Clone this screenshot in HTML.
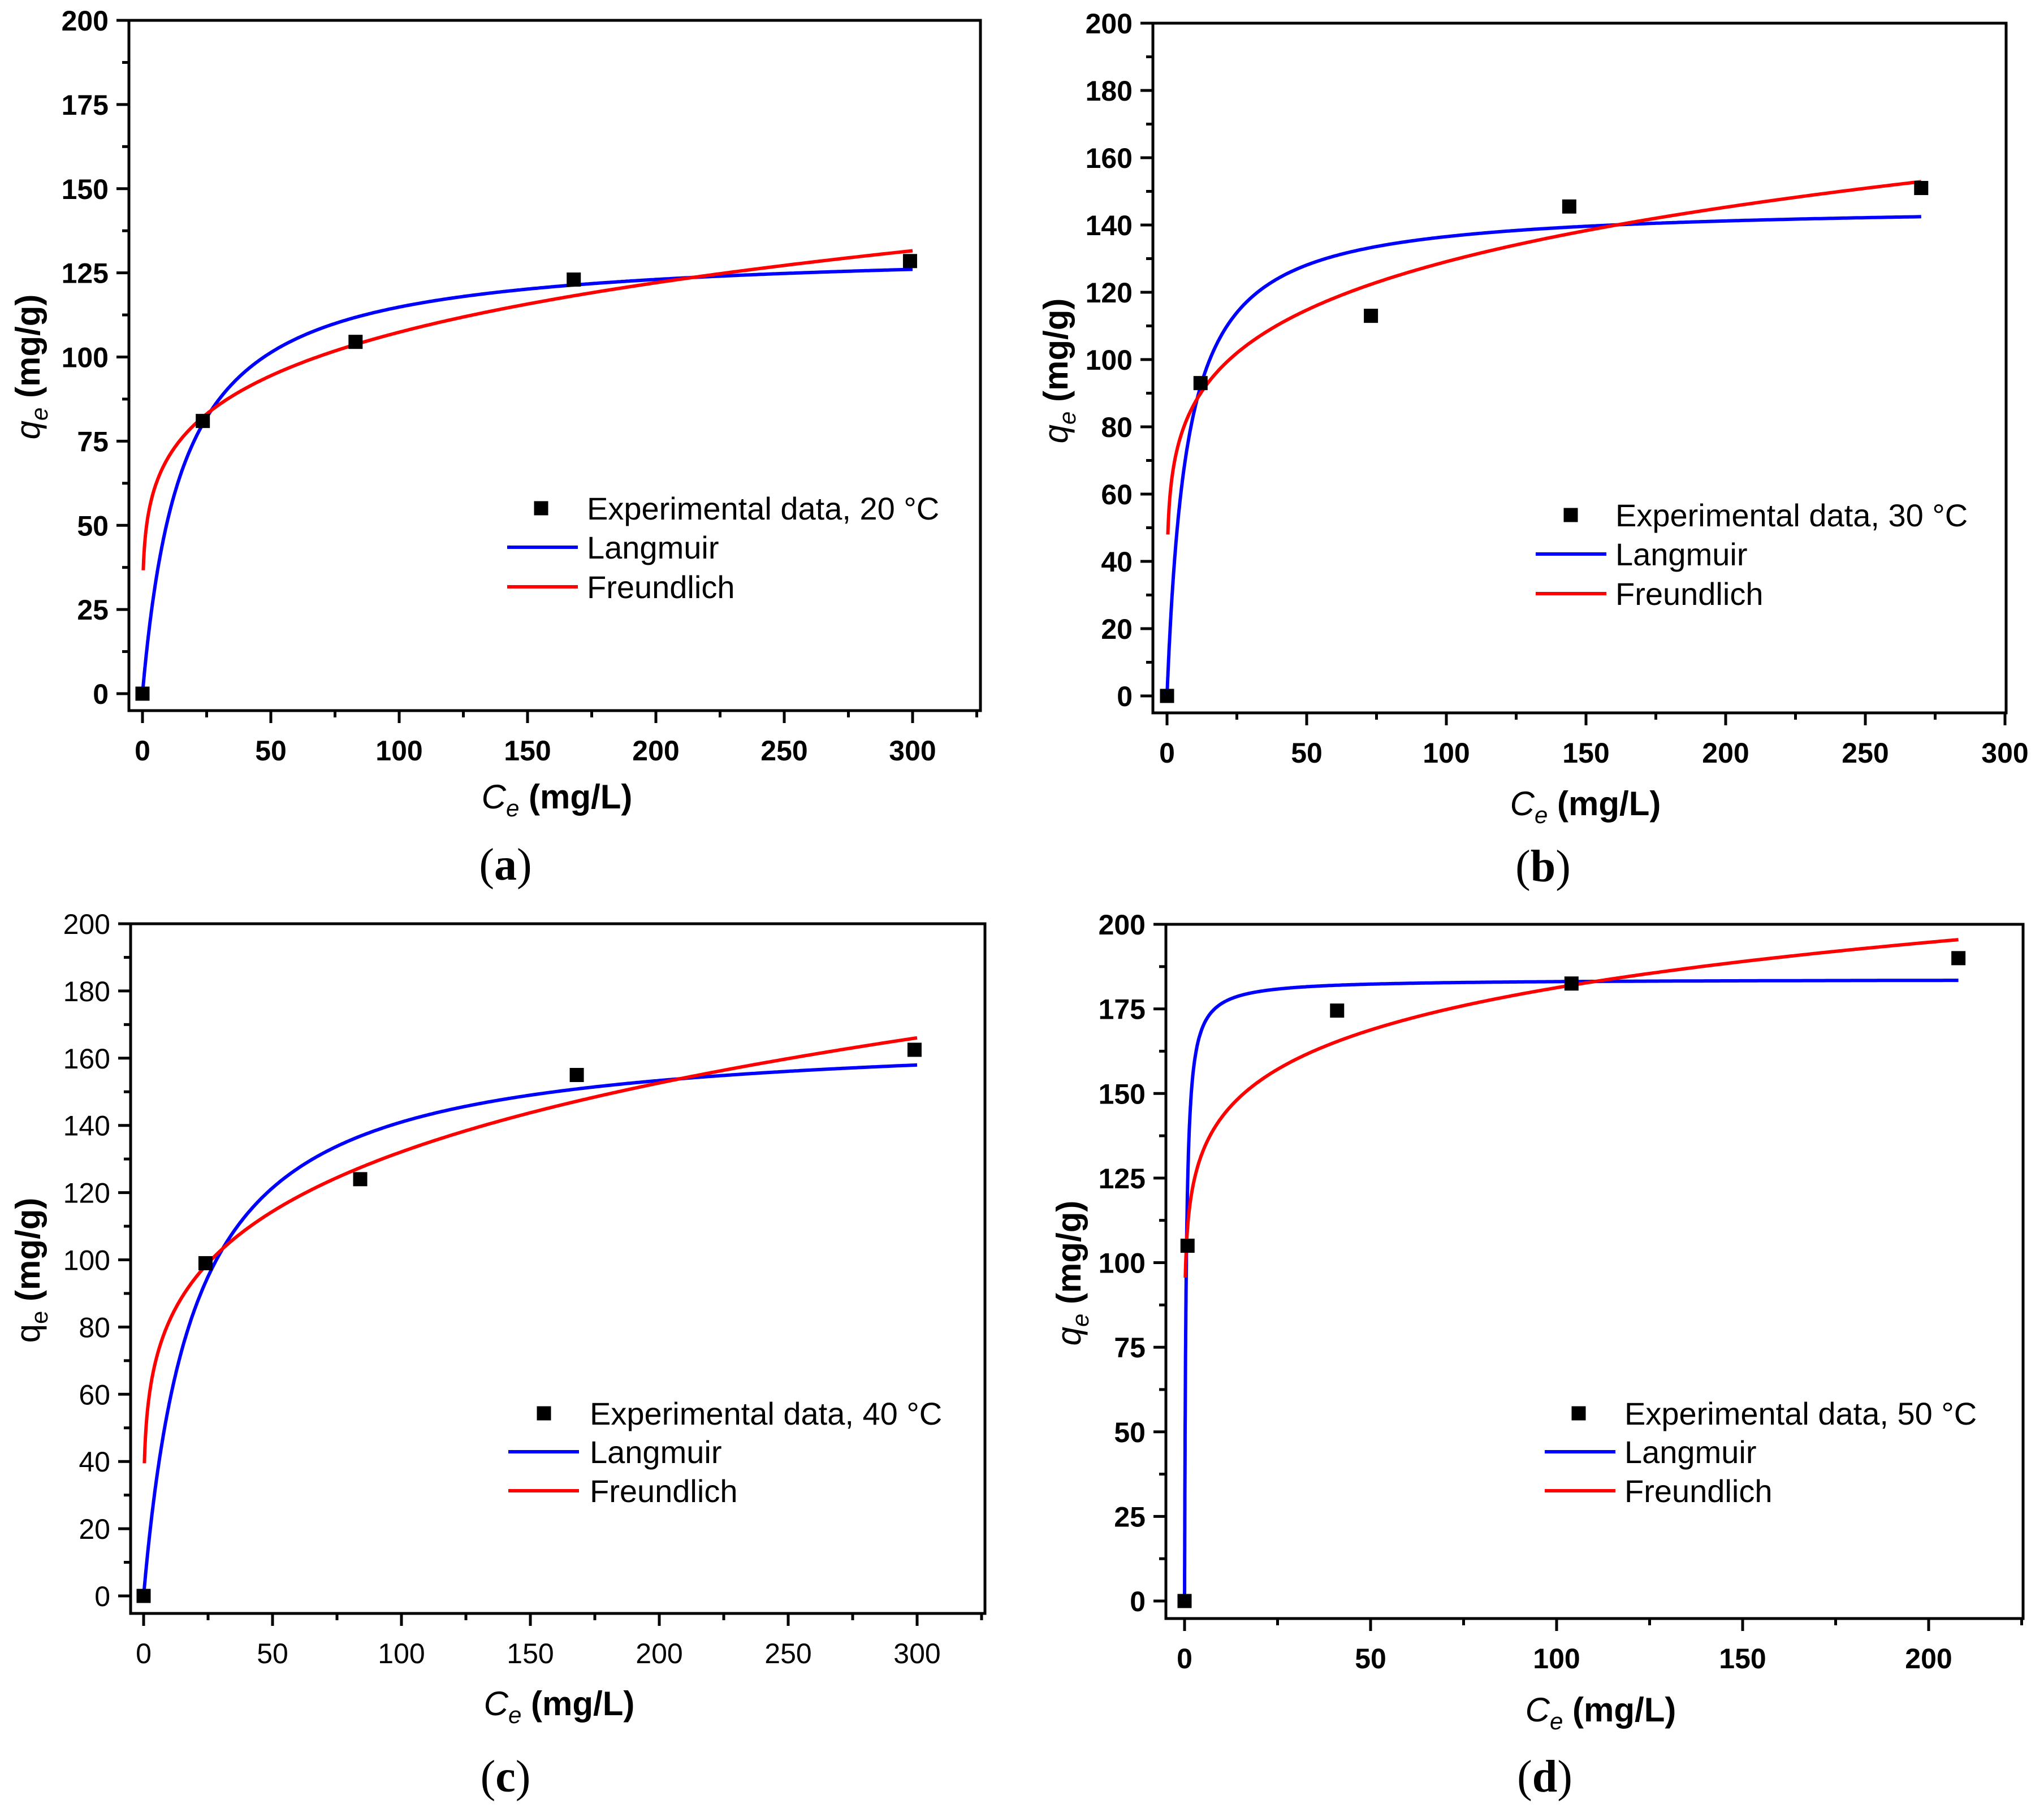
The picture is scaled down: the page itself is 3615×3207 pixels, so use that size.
<!DOCTYPE html>
<html><head><meta charset="utf-8"><style>
html,body{margin:0;padding:0;background:#fff;}
svg{display:block;}
</style></head><body>
<svg id="fig" xmlns="http://www.w3.org/2000/svg" width="3615" height="3207" viewBox="0 0 3615 3207"></svg>
<script>
// ---- data ----
const panelLetters = ['(a)','(b)','(c)','(d)'];
const temps = ['20','30','40','50'];
const expX_a = [0, 23.5, 83, 168, 299];
const expY_a = [0, 81, 104.5, 123, 128.5];
const expX_b = [0, 12, 73, 144, 270];
const expY_b = [0, 93, 113, 145.5, 151];
const expX_c = [0, 24, 84, 168, 299];
const expY_c = [0, 99, 124, 155, 162.5];
const expX_d = [0, 0.8, 41, 104, 208];
const expY_d = [0, 105, 174.5, 182.5, 190];
// Langmuir fit parameters per panel
const langQm = [132.5, 146.2, 168.1, 183.8];
const langK = [0.065, 0.1414, 0.052, 2.46];
// Freundlich fit parameters per panel
const freKF = [45.8, 58.9, 50.7, 112.8];
const freN = [0.185, 0.1704, 0.208, 0.103];
const fitEnd = [300, 270, 300, 208];
const freStart = [0.3, 0.3, 0.3, 0.2];
const xTicks_a = [0,50,100,150,200,250,300];
const xTicks_b = [0,50,100,150,200,250,300];
const xTicks_c = [0,50,100,150,200,250,300];
const xTicks_d = [0,50,100,150,200];
const yTicks_a = [0,25,50,75,100,125,150,175,200];
const yTicks_b = [0,20,40,60,80,100,120,140,160,180,200];
const yTicks_c = [0,20,40,60,80,100,120,140,160,180,200];
const yTicks_d = [0,25,50,75,100,125,150,175,200];

// ---- layout ----
const panels = [
 {L:228,R:1734,T:36,B:1257,x0:252,xv:50,xp:227,y0:1227,ymax:200,xMinor:25,yMinor:12.5,bold:true,
  ex:expX_a,ey:expY_a,xt:xTicks_a,yt:yTicks_a,leg:{mx:957,my:899,tx:1038,ly:[968,1038],l1:897,l2:1022},
  ytx:50,yty:649,xtx:985,xty:1410,lx:894,ly:1530},
 {L:2039,R:3548,T:41,B:1261,x0:2064,xv:50,xp:247,y0:1231,ymax:200,xMinor:25,yMinor:10,bold:true,
  ex:expX_b,ey:expY_b,xt:xTicks_b,yt:yTicks_b,leg:{mx:2778,my:911,tx:2857,ly:[980,1050],l1:2716,l2:2841},
  ytx:1868,yty:656,xtx:2804,xty:1422,lx:2729,ly:1533},
 {L:231,R:1742,T:1634,B:2854,x0:254,xv:50,xp:228,y0:2823,ymax:200,xMinor:25,yMinor:10,bold:false,
  ex:expX_c,ey:expY_c,xt:xTicks_c,yt:yTicks_c,leg:{mx:962,my:2500,tx:1043,ly:[2568,2637],l1:899,l2:1024},
  ytx:50,yty:2247,xtx:989,xty:3014,lx:894,ly:3143},
 {L:2062,R:3578,T:1635,B:2863,x0:2095,xv:50,xp:329,y0:2832,ymax:200,xMinor:25,yMinor:12.5,bold:true,
  ex:expX_d,ey:expY_d,xt:xTicks_d,yt:yTicks_d,leg:{mx:2792,my:2500,tx:2873,ly:[2568,2637],l1:2732,l2:2857},
  ytx:1891,yty:2252,xtx:2831,xty:3025,lx:2732,ly:3143}
];

const NS='http://www.w3.org/2000/svg';
const svg=document.getElementById('fig');
function mk(tag, attrs, parent){
  const e=document.createElementNS(NS,tag);
  for(const k in attrs) e.setAttribute(k,attrs[k]);
  (parent||svg).appendChild(e);
  return e;
}
const SANS='"Liberation Sans", Arial, sans-serif';

panels.forEach((p,i)=>{
  const g=mk('g',{});
  
  
  const sx=v=>p.x0+v*p.xp/p.xv;
  const sy=v=>p.y0-v*(p.y0-p.T)/p.ymax;
  const fw=p.bold?'bold':'normal';
  const fr=mk('rect',{x:p.L,y:p.T,width:p.R-p.L,height:p.B-p.T,fill:'none',stroke:'#000','stroke-width':5},g);
  
  
  const xMax=(p.R-p.x0)*p.xv/p.xp;
  for(let v=0; v<=xMax+0.001; v+=p.xMinor){
    const major=p.xt.indexOf(v)>=0;
    const t=mk('line',{x1:sx(v),x2:sx(v),y1:p.B,y2:p.B+(major?22:12),stroke:'#000','stroke-width':5},g);
    
    
  }
  p.xt.forEach(v=>{
    const t=mk('text',{x:sx(v),y:p.B+88,'font-family':SANS,'font-size':50,'font-weight':fw,'text-anchor':'middle'},g);
    t.textContent=v;
    
    
  });
  for(let v=0; v<=p.ymax+0.001; v+=p.yMinor){
    const major=p.yt.indexOf(v)>=0;
    const t=mk('line',{x1:p.L,x2:p.L-(major?22:12),y1:sy(v),y2:sy(v),stroke:'#000','stroke-width':5},g);
    
    
  }
  p.yt.forEach(v=>{
    const t=mk('text',{x:p.L-36,y:sy(v)+18,'font-family':SANS,'font-size':50,'font-weight':fw,'text-anchor':'end'},g);
    t.textContent=v;
    
    
  });
  const qm=langQm[i],K=langK[i],KF=freKF[i],n=freN[i];
  let dL='',dF='';
  const N=600;
  for(let k=0;k<=N;k++){
    const c=fitEnd[i]*Math.pow(k/N,2.2);
    const q=qm*K*c/(1+K*c);
    dL+=(k?'L':'M')+sx(c).toFixed(1)+' '+sy(q).toFixed(1);
    const cf=freStart[i]+(fitEnd[i]-freStart[i])*Math.pow(k/N,2.2);
    const qf=KF*Math.pow(cf,n);
    dF+=(k?'L':'M')+sx(cf).toFixed(1)+' '+sy(qf).toFixed(1);
  }
  const pl=mk('path',{d:dL,fill:'none',stroke:'#0000ff','stroke-width':6,'stroke-linejoin':'round'},g);
  
  
  const pf=mk('path',{d:dF,fill:'none',stroke:'#ff0000','stroke-width':6,'stroke-linejoin':'round'},g);
  
  
  p.ex.forEach((x,j)=>{
    const r=mk('rect',{x:sx(x)-12.5,y:sy(p.ey[j])-12.5,width:25,height:25,fill:'#000'},g);
    
    
  });
  const lg=mk('g',{},g);
  
  
  const lm=mk('rect',{x:p.leg.mx-12.5,y:p.leg.my-12.5,width:25,height:25,fill:'#000'},lg);
  
  
  const lt=mk('text',{x:p.leg.tx,y:p.leg.my+20,'font-family':SANS,'font-size':56},lg);
  lt.textContent='Experimental data, '+temps[i]+' °C';
  
  
  ['Langmuir','Freundlich'].forEach((nm,k)=>{
    const ln=mk('line',{x1:p.leg.l1,x2:p.leg.l2,y1:p.leg.ly[k],y2:p.leg.ly[k],stroke:k?'#ff0000':'#0000ff','stroke-width':6},lg);
    
    
    const tx=mk('text',{x:p.leg.tx,y:p.leg.ly[k]+20,'font-family':SANS,'font-size':56},lg);
    tx.textContent=nm;
    
    
  });
  const xt=mk('text',{x:p.xtx,y:p.xty+20,'font-family':SANS,'font-size':60,'text-anchor':'middle'},g);
  
  
  xt.innerHTML='<tspan font-style="italic">C</tspan><tspan font-style="italic" font-size="42" dy="14">e</tspan><tspan dy="-14" font-weight="bold"> (mg/L)</tspan>';
  const yt=mk('text',{x:0,y:0,'font-family':SANS,'font-size':60,'text-anchor':'middle',transform:'translate('+(p.ytx+20)+','+p.yty+') rotate(-90)'},g);
  
  
  if(i===2) yt.innerHTML='<tspan>q</tspan><tspan font-size="42" dy="14">e</tspan><tspan dy="-14" font-weight="bold"> (mg/g)</tspan>';
  else yt.innerHTML='<tspan font-style="italic">q</tspan><tspan font-style="italic" font-size="42" dy="14">e</tspan><tspan dy="-14" font-weight="bold"> (mg/g)</tspan>';
  const pl2=mk('text',{x:p.lx,y:p.ly+26,'font-family':'"Liberation Serif", serif','font-size':80,'text-anchor':'middle'},g);
  pl2.innerHTML='(<tspan font-weight="bold">'+panelLetters[i].slice(1,2)+'</tspan>)';
  
  
});
</script>
</body></html>
